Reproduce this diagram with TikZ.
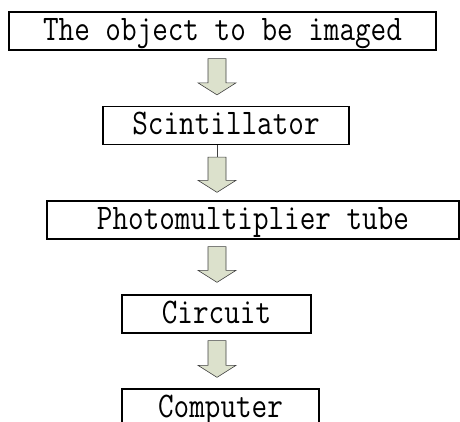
\documentclass[tikz,border=0pt]{standalone}
\usepackage{fontspec}
\usetikzlibrary{calc}

\begin{document}
\begin{tikzpicture}[line cap=butt,line join=miter,x=1pt,y=-1pt]
\definecolor{ddeecc}{rgb}{0.8627,0.8824,0.8000}
\definecolor{qqqqqq}{rgb}{0.25,0.25,0.25}
\newcommand{\tall}[1]{\scalebox{1}[1.19]{#1}}
\tikzset{
  stage/.style={draw,line width=1.3pt,inner sep=0pt,minimum height=38,
    text height=28,text depth=10,font=\fontsize{30.3}{32}\selectfont\ttfamily},
  blockarrow/.style={draw=qqqqqq,fill=ddeecc,line width=0.6pt}
}
\newcommand{\stagearrow}[2]{%
  \draw[blockarrow] ($(#1)+(-9,0)$) -- ($(#2)+(-9,-12)$) -- ($(#2)+(-19,-12)$)
    -- (#2) -- ($(#2)+(19,-12)$) -- ($(#2)+(9,-12)$) -- ($(#1)+(9,0)$) -- cycle;}

\useasboundingbox (0,0) rectangle (460,421);
\clip (0,0) rectangle (460,421);

% stages
\node[stage,minimum width=427] (obj) at (222.5,31) {\tall{The object to be imaged}};
\node[stage,minimum width=246] (scin) at (226,125.5) {\tall{Scintillator}};
\node[stage,minimum width=412] (pmt) at (253,220) {\tall{Photomultiplier tube}};
\node[stage,minimum width=189] (circ) at (216.5,314) {\tall{Circuit}};
\node[stage,minimum width=197] (comp) at (220.5,408) {\tall{Computer}};

% arrows
\coordinate (ax) at (217,0);
\coordinate (a1s) at ($(obj.south -| ax)+(0,8)$);
\coordinate (a1e) at ($(scin.north -| ax)+(0,-11)$);
\coordinate (a2s) at ($(scin.south -| ax)+(0,12)$);
\coordinate (a2e) at ($(pmt.north -| ax)+(0,-8)$);
\coordinate (a3s) at ($(pmt.south -| ax)+(0,7)$);
\coordinate (a3e) at ($(circ.north -| ax)+(0,-12)$);
\coordinate (a4s) at ($(circ.south -| ax)+(0,7)$);
\coordinate (a4e) at ($(comp.north -| ax)+(0,-11)$);
\draw[qqqqqq,line width=0.6pt] (scin.south -| ax) -- (a2s);
\stagearrow{a1s}{a1e}
\stagearrow{a2s}{a2e}
\stagearrow{a3s}{a3e}
\stagearrow{a4s}{a4e}
\end{tikzpicture}
\end{document}
